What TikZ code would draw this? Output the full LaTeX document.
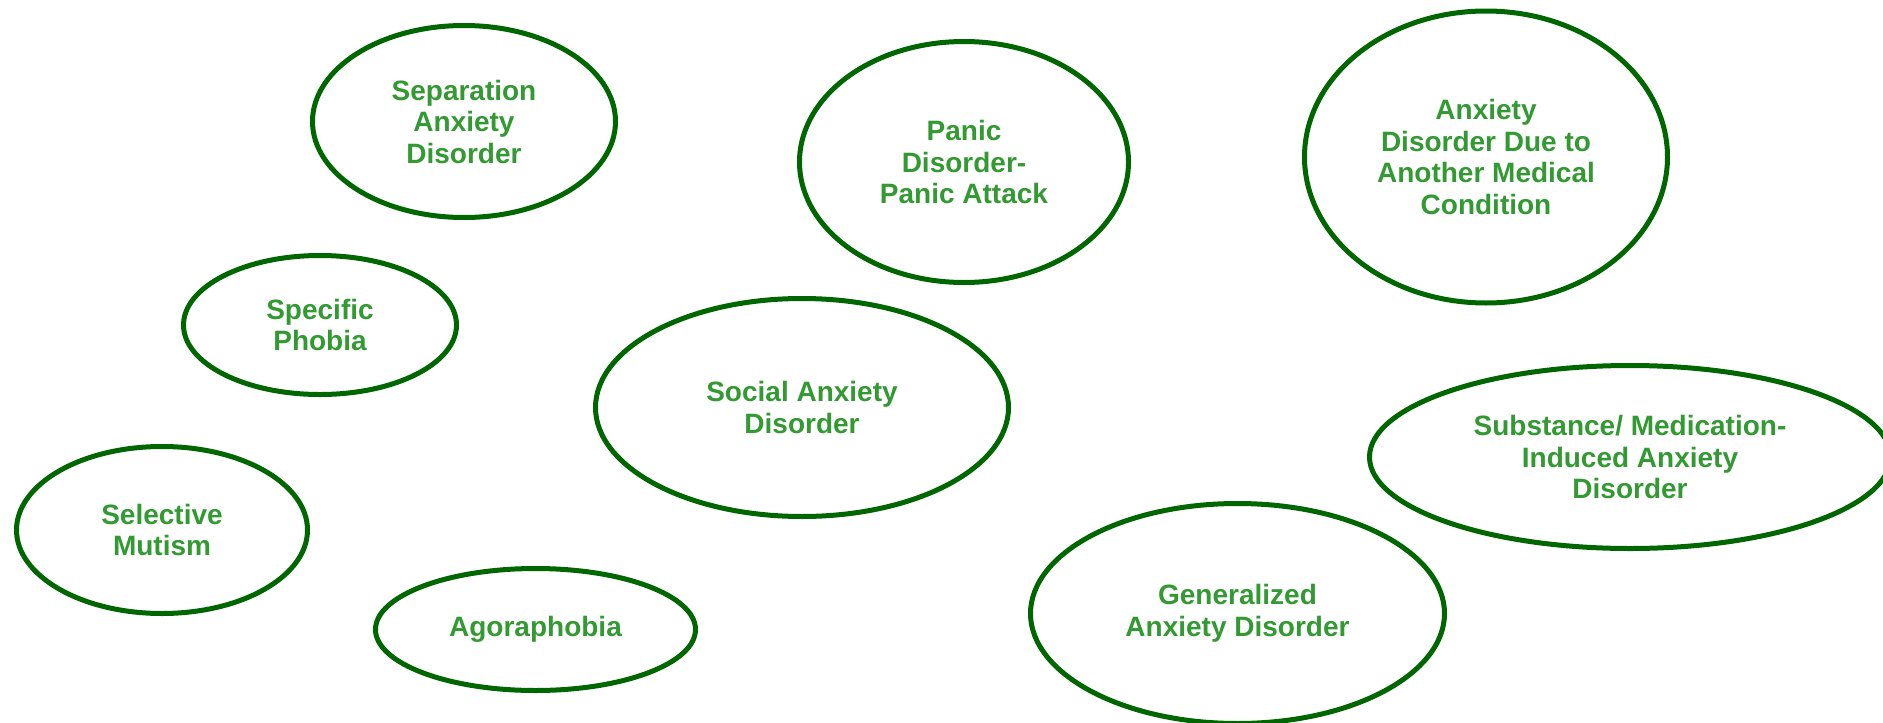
\documentclass[tikz,border=0pt]{standalone}
\usepackage{fontspec}
\setmainfont{Liberation Sans}
\usetikzlibrary{shapes.geometric}
\definecolor{ringgreen}{HTML}{006600}
\definecolor{labelgreen}{HTML}{339933}
\begin{document}
\begin{tikzpicture}[x=1pt, y=-1pt,
    disorder/.style={ellipse, draw=ringgreen, line width=5pt, inner sep=0pt,
      align=center, text=labelgreen,
      font=\fontsize{28}{31.5}\selectfont\bfseries}]
  \useasboundingbox (0,0) rectangle (1883,723);

  % top row
  \node[disorder, minimum width=303, minimum height=192] (sep) at (464,121.5)
    {Separation\\Anxiety\\Disorder};
  \node[disorder, minimum width=329, minimum height=241] (panic) at (964,162)
    {Panic\\Disorder-\\Panic Attack};
  \node[disorder, minimum width=363, minimum height=292] (medcond) at (1486,157)
    {Anxiety\\Disorder Due to\\Another Medical\\Condition};

  % middle
  \node[disorder, minimum width=273, minimum height=139] (phobia) at (320,325)
    {Specific\\Phobia};
  \node[disorder, minimum width=413, minimum height=218] (social) at (802,407.5)
    {Social Anxiety\\Disorder};
  \node[disorder, minimum width=521, minimum height=183] (substance) at (1630,457)
    {Substance/ Medication-\\Induced Anxiety\\Disorder};

  % bottom row
  \node[disorder, minimum width=291, minimum height=167] (mutism) at (162,530)
    {Selective\\Mutism};
  \node[disorder, minimum width=320, minimum height=122] (agora) at (535.5,629.5)
    {Agoraphobia};
  \node[disorder, minimum width=414, minimum height=220] (gad) at (1237.5,613.5)
    {Generalized\\Anxiety Disorder};
\end{tikzpicture}
\end{document}
